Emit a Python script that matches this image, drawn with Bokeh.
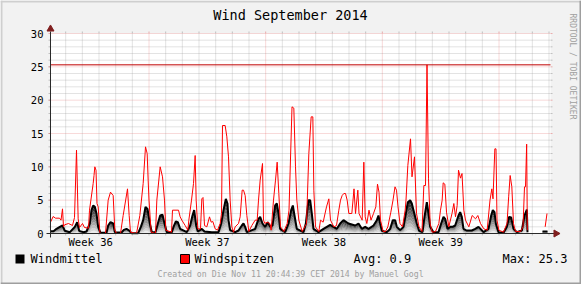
import numpy as np
from bokeh.plotting import figure
from bokeh.models import Range1d, BoxAnnotation
from bokeh.core.properties import value
from bokeh.embed import file_html
from bokeh.resources import INLINE

# ---------------- data ----------------
title_text = "Wind September 2014"
week_ticks = [2.5, 9.5, 16.5, 23.5]          # days since Sep 1, 00:00 (mid-week)
week_labels = ["Week 36", "Week 37", "Week 38", "Week 39"]
week_lines = [6, 13, 20, 27]                  # week boundaries
day_lines = list(range(1, 31))                # day boundaries
y_ticks = [0, 5, 10, 15, 20, 25, 30]
y_minor = [v for v in range(1, 30)]
max_value = 25.3
avg_value = 0.9
series_names = ["Windmittel", "Windspitzen"]
nan = float("nan")

spitzen_t = [0.09, 0.25, 0.39, 0.63, 0.72, 0.81, 0.87, 0.93, 1.17, 1.41, 1.53, 1.65, 1.75, 1.83,
             2.01, 2.13, 2.37, 2.43, 2.65, 2.70, 2.75, 2.82, 2.88, 2.95, 3.05, 3.09, 3.39, 3.55,
             3.69, 3.85, 3.95, 4.05, 4.29, 4.45, 4.71, 4.81, 4.89, 5.25, 5.45, 5.65, 5.79, 5.89,
             5.95, 6.00, 6.13, 6.39, 6.47, 6.67, 6.81, 6.93, 7.01, 7.35, 7.41, 7.77, 7.87, 7.97,
             8.17, 8.33, 8.39, 8.55, 8.67, 8.77, 8.83, 8.93, 9.09, 9.17, 9.24, 9.33, 9.47, 9.63,
             9.73, 9.83, 9.97, 10.11, 10.27, 10.35, 10.41, 10.57, 10.67, 10.77, 10.87, 10.97,
             11.07, 11.17, 11.37, 11.47, 11.59, 11.67, 11.77, 11.87, 11.99, 12.17, 12.37, 12.49,
             12.57, 12.67, 12.81, 12.87, 12.95, 13.09, 13.25, 13.33, 13.47, 13.59, 13.69, 13.79,
             13.89, 14.09, 14.29, 14.40, 14.58, 14.69, 14.79, 14.87, 14.99, 15.19, 15.45, 15.59,
             15.73, 15.83, 15.89, 15.99, 16.19, 16.29, 16.45, 16.65, 16.79, 16.89, 17.09, 17.25,
             17.39, 17.49, 17.59, 17.69, 17.79, 17.89, 17.99, 18.17, 18.30, 18.39, 18.53, 18.60,
             18.69, 18.79, 18.89, 18.97, 19.07, 19.20, 19.32, 19.47, 19.61, 19.71, 19.80, 19.89,
             20.05, 20.19, 20.33, 20.51, 20.64, 20.76, 20.85, 20.94, 21.06, 21.21, 21.37, 21.42,
             21.53, 21.69, 21.78, 21.93, 22.05, 22.20, 22.38, 22.49, 22.59, 22.68, 22.77, 22.87,
             22.99, 23.19, 23.39, 23.49, 23.59, 23.65, 23.75, 23.85, 23.99, 24.18, 24.29, 24.39,
             24.49, 24.57, 24.69, 24.78, 24.89, 24.99, 25.19, 25.39, 25.59, 25.73, 25.89, 26.09,
             26.29, 26.46, 26.57, 26.64, 26.75, 26.82, 26.88, 26.99, 27.27, 27.48, 27.58, 27.67,
             27.77, 27.87, 27.99, 28.29, 28.44, 28.53, 28.59, 28.66, 28.70, 29.20, 29.77, 29.88]
spitzen_v = [1.7, 2.55, 2.3, 2.3, 2.0, 3.7, 1.0, 1.3, 1.5, 1.2, 2.4, 12.5, 2.2, 0.9,
             1.5, 0.9, 0.8, 3.5, 7.5, 8.7, 10.0, 9.5, 4.5, 4.0, 0.2, 0.0, 0.0, 5.0,
             6.2, 5.7, 0.5, 0.0, 0.0, 2.7, 6.7, 2.7, 0.2, 0.0, 2.7, 7.5, 13.0, 12.0,
             8.0, 5.0, 0.2, 0.0, 5.0, 10.0, 8.5, 5.0, 0.5, 0.2, 3.5, 3.5, 2.5, 2.0,
             1.2, 0.5, 2.0, 5.0, 7.5, 11.7, 5.0, 0.7, 0.7, 5.2, 5.4, 1.2, 1.0, 2.5,
             1.7, 1.8, 0.7, 0.5, 1.5, 3.0, 16.2, 16.2, 14.5, 11.5, 5.0, 1.0,
             0.2, 1.0, 1.5, 2.5, 6.5, 6.5, 5.7, 2.7, 0.3, 1.2, 2.0, 2.0,
             5.0, 8.0, 10.5, 2.0, 1.5, 1.7, 1.5, 0.5, 5.0, 8.0, 10.7, 6.0,
             1.0, 0.3, 1.5, 3.5, 19.0, 18.8, 10.0, 5.0, 2.0, 0.3, 1.5, 12.0,
             17.5, 17.5, 6.5, 1.0, 0.3, 2.0, 1.7, 4.0, 5.2, 2.0, 1.0, 1.2,
             3.5, 5.0, 5.7, 6.0, 6.0, 5.0, 3.0, 3.0, 6.7, 3.0, 6.5, 3.0,
             2.5, 2.0, 10.7, 2.5, 1.5, 3.5, 2.0, 3.0, 4.0, 7.4, 6.2, 2.0,
             0.3, 0.3, 1.0, 3.2, 5.0, 7.0, 6.5, 4.0, 1.5, 1.0, 3.5, 5.0,
             10.2, 14.2, 8.5, 11.5, 3.0, 1.0, 0.3, 7.2, 7.2, 25.3, 8.2, 1.5,
             0.2, 0.3, 1.5, 3.5, 5.0, 7.6, 7.4, 3.2, 1.0, 3.0, 4.5, 2.5,
             4.2, 9.5, 8.3, 9.0, 3.5, 2.0, 1.0, 2.7, 2.2, 2.7, 1.5, 0.7,
             0.5, 5.0, 6.7, 5.2, 12.7, 12.7, 2.0, 0.5, 0.2, 1.5, 5.5, 8.7,
             7.0, 1.5, 0.3, 0.3, 1.0, 7.0, 7.0, 13.4, 0.5, nan, 1.0, 3.0]

mittel_t = [0.09, 0.27, 0.45, 0.65, 0.81, 0.95, 1.25, 1.55, 1.69, 1.81, 2.05, 2.25, 2.45, 2.55,
            2.65, 2.75, 2.85, 2.95, 3.09, 3.45, 3.55, 3.69, 3.85, 3.95, 4.35, 4.49, 4.65, 4.81,
            4.95, 5.35, 5.51, 5.65, 5.79, 5.91, 6.05, 6.17, 6.39, 6.53, 6.67, 6.81, 6.93, 7.07,
            7.37, 7.47, 7.61, 7.73, 7.87, 8.27, 8.47, 8.61, 8.71, 8.83, 8.93, 9.17, 9.33, 9.77,
            10.17, 10.33, 10.47, 10.61, 10.71, 10.77, 10.87, 11.17, 11.37, 11.57, 11.67, 11.77,
            11.87, 12.37, 12.57, 12.67, 12.81, 12.97, 13.13, 13.27, 13.41, 13.57, 13.67, 13.77,
            13.87, 14.17, 14.37, 14.53, 14.63, 14.73, 14.87, 15.27, 15.41, 15.57, 15.67, 15.77,
            15.87, 16.17, 16.47, 16.67, 16.87, 17.07, 17.27, 17.47, 17.67, 17.97, 18.37, 18.57,
            18.77, 18.97, 19.17, 19.47, 19.67, 19.77, 19.87, 19.97, 20.27, 20.47, 20.63, 20.77,
            20.87, 21.07, 21.27, 21.41, 21.53, 21.67, 21.77, 21.87, 22.07, 22.21, 22.41, 22.53,
            22.67, 22.77, 22.87, 23.07, 23.37, 23.53, 23.67, 23.77, 23.91, 24.07, 24.21, 24.37,
            24.57, 24.67, 24.77, 24.87, 25.05, 25.37, 25.57, 25.77, 25.89, 26.07, 26.37, 26.53,
            26.63, 26.73, 26.81, 26.97, 27.27, 27.47, 27.61, 27.73, 27.87, 28.07, 28.37, 28.53,
            28.67, 28.71, 29.20, 29.61, 29.91]
mittel_v = [0.35, 0.35, 0.7, 1.0, 1.2, 0.4, 0.2, 1.0, 1.7, 0.4, 0.2, 0.3, 1.5, 3.5,
            4.2, 4.0, 3.0, 1.0, 0.1, 0.1, 1.2, 1.7, 1.5, 0.2, 0.15, 0.55, 0.7, 0.45,
            0.05, 0.05, 1.0, 2.0, 4.0, 3.7, 1.5, 0.2, 0.2, 1.5, 2.7, 2.8, 1.5, 0.2,
            0.2, 1.0, 1.8, 1.7, 0.7, 0.2, 1.2, 2.7, 3.5, 1.2, 0.3, 0.7, 0.3, 0.2,
            0.2, 1.5, 3.5, 5.2, 4.5, 2.0, 0.5, 0.2, 0.45, 1.2, 1.5, 1.0,
            0.2, 0.7, 2.2, 2.5, 1.5, 1.0, 1.7, 1.0, 1.2, 4.2, 4.5, 3.0,
            0.7, 0.2, 1.5, 3.5, 4.2, 2.7, 0.7, 0.2, 1.5, 5.0, 5.0, 3.0,
            0.7, 0.2, 0.7, 1.0, 1.3, 1.0, 0.7, 1.5, 2.0, 1.5, 1.2, 1.5,
            0.7, 1.0, 0.7, 1.2, 2.0, 2.7, 1.5, 0.4, 0.2, 0.7, 2.0, 2.0,
            1.0, 0.5, 1.0, 3.0, 4.7, 5.0, 4.5, 3.5, 1.5, 0.4, 0.2, 2.5,
            4.7, 3.0, 1.0, 0.2, 0.2, 1.5, 2.5, 2.2, 0.7, 1.0, 1.0, 1.2,
            2.7, 3.2, 2.5, 0.7, 0.45, 0.45, 0.7, 1.0, 0.7, 0.2, 0.7, 2.7,
            3.5, 3.2, 1.5, 0.2, 0.1, 1.0, 2.5, 2.4, 0.7, 0.2, 0.45, 2.7,
            3.6, 0.2, nan, 0.3, 0.3]

# ---------------- geometry helpers (canvas pixels -> data) ----------------
W, H = 581, 284
T0, T1 = 0.09, 30.09           # time span of the graph (days since Sep 1)
PX_L, PX_R, PY_B, PY_T = 50, 550, 233, 33
KX = (T1 - T0) / (PX_R - PX_L)
KY = 30.0 / (PY_B - PY_T)


def X(px):
    return T0 + (px - PX_L) * KX


def Y(py):
    return (PY_B - py) * KY


FONT = "DejaVu Sans Mono"
BACK = "#f2f2f2"
GRID = "rgba(143,143,143,0.5)"
MGRID = "rgba(222,79,79,0.42)"
ARROW = "#801f1f"
AXIS = "#2a2a2a"

p = figure(width=W, height=H, output_backend="svg", toolbar_location=None,
           x_range=Range1d(X(0), X(W)), y_range=Range1d(Y(H), Y(0)),
           x_axis_location=None, y_axis_location=None, min_border=0)
p.border_fill_color = BACK
p.background_fill_color = BACK
p.outline_line_color = None
p.grid.visible = False

# bevelled border
for l, r, t, b, c in [(0, W, 0, 2, "#cfcfcf"), (0, 2, 0, H, "#cfcfcf"),
                      (W - 2, W, 0, H, "#9e9e9e"), (0, W, H - 2, H, "#9e9e9e")]:
    p.add_layout(BoxAnnotation(left=X(l), right=X(r), top=Y(t), bottom=Y(b),
                               fill_color=c, fill_alpha=1, line_color=None, level="underlay"))

# white canvas
p.quad(left=[T0], right=[T1], bottom=[0], top=[30], fill_color="white", line_color=None)

# grid lines
h_minor = [v for v in y_minor if v % 5]
h_major = [v for v in y_ticks if v > 0]
v_minor = [d for d in day_lines if d not in week_lines]


def hseg(ys, x0, x1, color, dash="solid"):
    p.segment(x0=[x0] * len(ys), y0=ys, x1=[x1] * len(ys), y1=ys,
              line_color=color, line_width=1, line_dash=dash)


def vseg(xs, y0, y1, color, dash="solid"):
    p.segment(x0=xs, y0=[y0] * len(xs), x1=xs, y1=[y1] * len(xs),
              line_color=color, line_width=1, line_dash=dash)


hseg(h_minor, T0, T1, GRID, "1 1")
hseg(h_major, T0, T1, MGRID, "1 1")
vseg(v_minor, 0, 30, GRID, "1 1")
vseg(week_lines, 0, 30, MGRID, "1 1")
# small solid grid ticks just outside the canvas
hseg(h_minor, T1, X(PX_R + 2), GRID)
hseg(h_major, T1, X(PX_R + 2), MGRID)
hseg(y_minor, X(PX_L - 2), T0, GRID)
hseg(h_major, X(PX_L - 2), T0, MGRID)
vseg(v_minor, 30, Y(PY_T - 2), GRID)
vseg(week_lines, 30, Y(PY_T - 2), MGRID)
vseg(day_lines, Y(PY_B + 2), 0, GRID)


def segments(t, v):
    segs, ct, cv = [], [], []
    for a, b in zip(t, v):
        if np.isnan(b):
            if ct:
                segs.append((np.array(ct), np.array(cv)))
            ct, cv = [], []
        else:
            ct.append(a)
            cv.append(b)
    if ct:
        segs.append((np.array(ct), np.array(cv)))
    return segs


# Windmittel: gradient area
N = 10
for ts, vs in segments(mittel_t, mittel_v):
    for k in range(N):
        g = int(round(235 - (235 - 35) * k / (N - 1)))
        col = "#%02x%02x%02x" % (g, g, g)
        p.varea(x=ts, y1=vs * k / N, y2=vs * (k + 1) / N, fill_color=col, fill_alpha=1)
    p.line(ts, vs, line_color="black", line_width=2)

# Windspitzen: red line
for ts, vs in segments(spitzen_t, spitzen_v):
    p.line(ts, vs, line_color="#ff0000", line_width=1)

# Max rule
p.line([T0, T1], [max_value, max_value], line_color="#c00000", line_width=1)

# axes lines and arrows
p.segment(x0=[T0], y0=[Y(PY_B + 4)], x1=[T0], y1=[Y(PY_T - 2)], line_color=AXIS, line_width=1)
p.segment(x0=[X(PX_L - 4)], y0=[0], x1=[X(PX_R + 4)], y1=[0], line_color=AXIS, line_width=1)
p.scatter([T0], [Y(PY_T - 4.5)], marker="triangle", size=7, fill_color=ARROW, line_color=ARROW)
p.scatter([X(PX_R + 5.5)], [0], marker="triangle", size=7, angle=-np.pi / 2,
          fill_color=ARROW, line_color=ARROW)

# tick labels
p.text(x=[X(PX_L - 7)] * len(y_ticks), y=y_ticks, text=[str(v) for v in y_ticks],
       text_font=value(FONT), text_font_size="10.5px", text_align="right",
       text_baseline="middle", text_color="black")
p.text(x=week_ticks, y=[Y(241.5)] * len(week_ticks), text=week_labels,
       text_font=value(FONT), text_font_size="10.5px", text_align="center",
       text_baseline="middle", text_color="black")

# title and watermarks
p.text(x=[X(290)], y=[Y(14)], text=[title_text], text_font=value(FONT),
       text_font_size="13.5px", text_align="center", text_baseline="middle", text_color="black")
p.text(x=[X(572)], y=[Y(66)], text=["RRDTOOL / TOBI OETIKER"], text_font=value(FONT),
       text_font_size="8px", text_align="center", text_baseline="middle",
       angle=-np.pi / 2, text_color="#a0a0a0")
p.text(x=[X(290)], y=[Y(273)], text=["Created on Die Nov 11 20:44:39 CET 2014 by Manuel Gogl"],
       text_font=value(FONT), text_font_size="8.2px", text_align="center",
       text_baseline="middle", text_color="#a0a0a0")

# legend
p.quad(left=[X(15)], right=[X(24)], top=[Y(254)], bottom=[Y(263)],
       fill_color="black", line_color=None)
p.quad(left=[X(180)], right=[X(189)], top=[Y(254)], bottom=[Y(263)],
       fill_color="#ff0000", line_color="black", line_width=1)
legend_x = [X(30), X(194), X(353), X(502)]
legend_txt = [series_names[0], series_names[1], "Avg: %.1f" % avg_value, "Max: %.1f" % max_value]
p.text(x=legend_x, y=[Y(258.5)] * 4, text=legend_txt, text_font=value(FONT),
       text_font_size="12px", text_align="left", text_baseline="middle", text_color="black")

open("out.html", "w").write(file_html(p, INLINE))
